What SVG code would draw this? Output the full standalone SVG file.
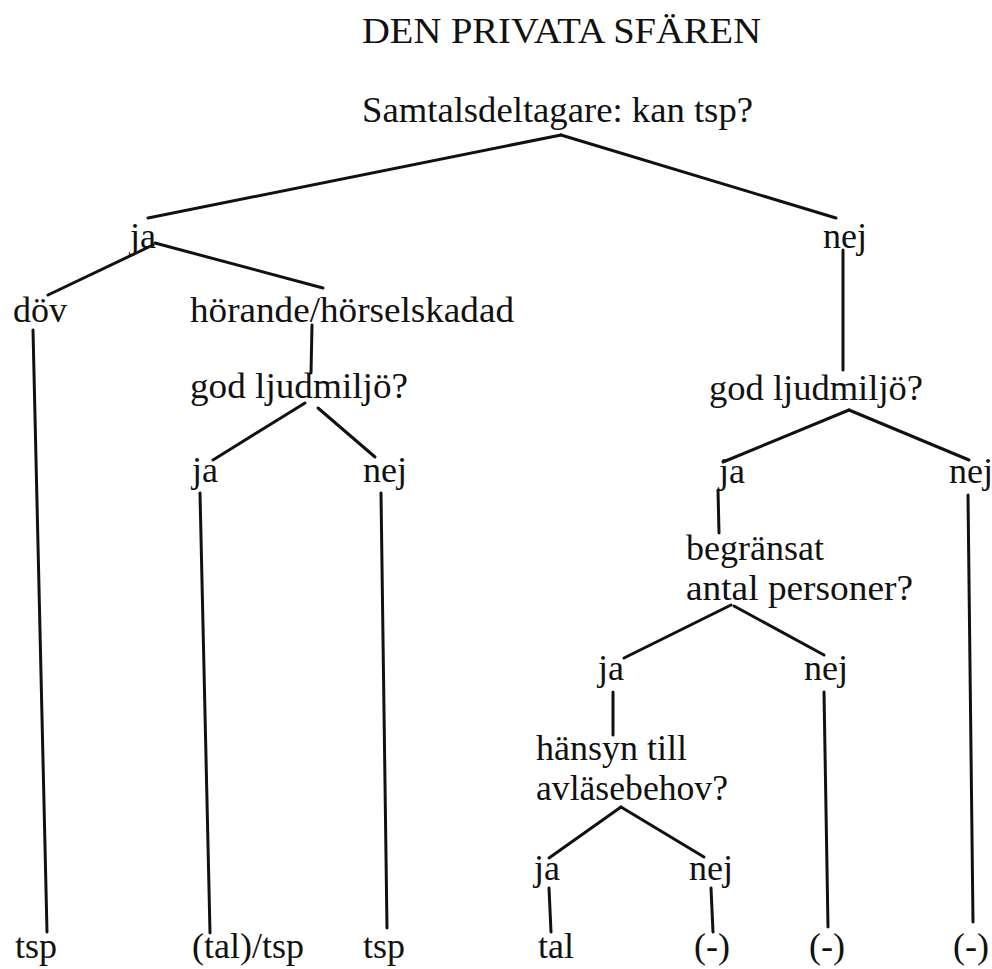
<svg xmlns="http://www.w3.org/2000/svg" width="992" height="969" viewBox="0 0 992 969">
<style>
text { font-family: "Liberation Serif", "DejaVu Serif", serif; font-size: 36px; fill: #111; }
.c line { stroke: #111; stroke-width: 3; stroke-linecap: round; }
</style>
<rect width="992" height="969" fill="#fff"/>
<g font-family="Liberation Serif, serif">
<g id="title"><text x="362" y="43" textLength="399" lengthAdjust="spacingAndGlyphs">DEN PRIVATA SFÄREN</text></g>
<g class="c" id="connectors">
<line x1="561" y1="135" x2="148" y2="218"/>
<line x1="561" y1="135" x2="836" y2="218"/>
<line x1="153" y1="245" x2="48" y2="295"/>
<line x1="155" y1="243" x2="323" y2="288"/>
<line x1="33" y1="330" x2="47" y2="932"/>
<line x1="312" y1="325" x2="311" y2="373"/>
<line x1="305" y1="403" x2="213" y2="460"/>
<line x1="318" y1="408" x2="375" y2="457"/>
<line x1="200" y1="493" x2="210" y2="933"/>
<line x1="381" y1="493" x2="387" y2="928"/>
<line x1="843" y1="250" x2="843" y2="370"/>
<line x1="849" y1="410" x2="723" y2="462"/>
<line x1="849" y1="410" x2="969" y2="460"/>
<line x1="718" y1="490" x2="719" y2="533"/>
<line x1="968" y1="495" x2="973" y2="922"/>
<line x1="731" y1="605" x2="624" y2="658"/>
<line x1="734" y1="606" x2="824" y2="655"/>
<line x1="613" y1="692" x2="613" y2="735"/>
<line x1="824" y1="692" x2="828" y2="927"/>
<line x1="621" y1="807" x2="549" y2="858"/>
<line x1="621" y1="807" x2="704" y2="857"/>
<line x1="549" y1="888" x2="551" y2="932"/>
<line x1="711" y1="888" x2="713" y2="932"/>
</g>
<g id="root"><text x="362" y="122" textLength="391" lengthAdjust="spacingAndGlyphs">Samtalsdeltagare: kan tsp?</text></g>
<g id="ja1"><text x="130" y="248">ja</text></g>
<g id="nej1"><text x="823" y="248">nej</text></g>
<g id="dov"><text x="13" y="322">döv</text></g>
<g id="horande"><text x="190" y="322" textLength="324" lengthAdjust="spacingAndGlyphs">hörande/hörselskadad</text></g>
<g id="god1"><text x="190" y="398" textLength="218" lengthAdjust="spacingAndGlyphs">god ljudmiljö?</text></g>
<g id="god2"><text x="709" y="400" textLength="214" lengthAdjust="spacingAndGlyphs">god ljudmiljö?</text></g>
<g id="ja2"><text x="192" y="482">ja</text></g>
<g id="nej2"><text x="363" y="482">nej</text></g>
<g id="ja3"><text x="719" y="483">ja</text></g>
<g id="nej3"><text x="949" y="483">nej</text></g>
<g id="begransat"><text x="686" y="560">begränsat</text><text x="686" y="600" textLength="227" lengthAdjust="spacingAndGlyphs">antal personer?</text></g>
<g id="ja4"><text x="598" y="680">ja</text></g>
<g id="nej4"><text x="804" y="680">nej</text></g>
<g id="hansyn"><text x="536" y="760">hänsyn till</text><text x="536" y="800" textLength="192" lengthAdjust="spacingAndGlyphs">avläsebehov?</text></g>
<g id="ja5"><text x="534" y="880">ja</text></g>
<g id="nej5"><text x="689" y="880">nej</text></g>
<g id="leaf1"><text x="15" y="958">tsp</text></g>
<g id="leaf2"><text x="192" y="958">(tal)/tsp</text></g>
<g id="leaf3"><text x="363" y="958">tsp</text></g>
<g id="leaf4"><text x="538" y="958">tal</text></g>
<g id="leaf5"><text x="694" y="958">(-)</text></g>
<g id="leaf6"><text x="809" y="958">(-)</text></g>
<g id="leaf7"><text x="953" y="958">(-)</text></g>
</g>
</svg>
